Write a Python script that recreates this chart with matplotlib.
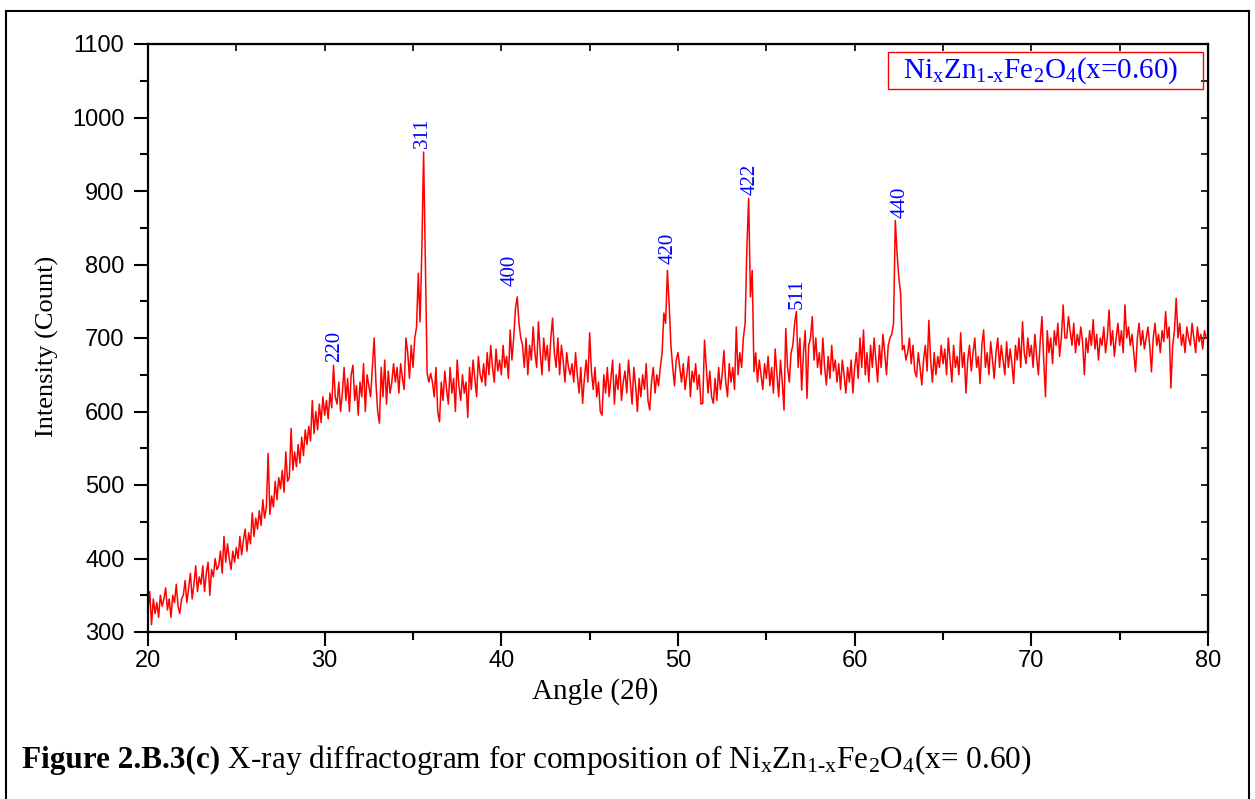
import numpy as np
import matplotlib
matplotlib.use("Agg")
import matplotlib.pyplot as plt
from matplotlib.ticker import MultipleLocator
from matplotlib.lines import Line2D

plt.rcParams['mathtext.fontset'] = 'custom'
plt.rcParams['mathtext.rm'] = 'Liberation Serif'
plt.rcParams['mathtext.it'] = 'Liberation Serif:italic'

# ---- data: intensity read every 0.1 degree from 20.0 to 80.0 ----
angle_start = 20.0
angle_step = 0.1
intensity_rows = [
    [330, 355, 310, 345, 325, 340, 320, 350, 335, 345],  # 20
    [360, 330, 345, 320, 350, 340, 365, 335, 325, 345],  # 21
    [350, 370, 340, 360, 380, 345, 365, 390, 355, 375],  # 22
    [365, 390, 355, 380, 395, 350, 385, 375, 400, 385],  # 23
    [390, 410, 380, 430, 395, 420, 400, 385, 410, 395],  # 24
    [415, 400, 430, 405, 425, 440, 410, 435, 420, 462],  # 25
    [430, 455, 440, 465, 445, 480, 455, 470, 543, 460],  # 26
    [485, 470, 505, 480, 510, 495, 520, 490, 545, 505],  # 27
    [510, 577, 520, 545, 525, 555, 530, 565, 540, 575],  # 28
    [555, 580, 560, 615, 570, 600, 575, 610, 585, 620],  # 29
    [595, 615, 590, 625, 605, 663, 620, 610, 640, 600],  # 30
    [625, 660, 615, 645, 600, 650, 663, 615, 635, 595],  # 31
    [640, 620, 665, 600, 650, 635, 620, 660, 700, 640],  # 32
    [600, 584, 660, 620, 670, 610, 655, 625, 640, 665],  # 33
    [640, 660, 625, 665, 645, 630, 700, 680, 645, 690],  # 34
    [660, 700, 715, 788, 722, 820, 953, 800, 652, 640],  # 35
    [652, 640, 620, 660, 600, 586, 640, 615, 655, 630],  # 36
    [610, 660, 625, 645, 600, 670, 635, 615, 650, 625],  # 37
    [640, 592, 660, 630, 670, 645, 620, 675, 650, 640],  # 38
    [665, 635, 680, 650, 690, 660, 640, 685, 655, 670],  # 39
    [650, 690, 660, 675, 645, 711, 670, 700, 740, 756],  # 40
    [720, 700, 690, 660, 700, 650, 690, 670, 715, 680],  # 41
    [660, 722, 680, 650, 700, 670, 690, 655, 700, 727],  # 42
    [680, 660, 700, 650, 690, 670, 640, 680, 660, 650],  # 43
    [665, 640, 680, 650, 625, 660, 611, 645, 670, 640],  # 44
    [707, 655, 630, 660, 620, 640, 600, 595, 650, 625],  # 45
    [660, 620, 645, 670, 610, 650, 630, 665, 615, 640],  # 46
    [655, 625, 670, 640, 610, 660, 635, 600, 645, 620],  # 47
    [650, 630, 665, 615, 602, 640, 660, 625, 650, 635],  # 48
    [660, 680, 734, 720, 792, 745, 690, 660, 635, 670],  # 49
    [680, 660, 640, 665, 630, 650, 675, 620, 655, 640],  # 50
    [665, 630, 650, 610, 611, 697, 660, 625, 655, 620],  # 51
    [611, 645, 615, 660, 630, 650, 683, 640, 620, 665],  # 52
    [640, 660, 630, 715, 650, 680, 660, 700, 720, 824],  # 53
    [890, 756, 792, 654, 680, 640, 670, 650, 630, 665],  # 54
    [645, 675, 635, 660, 625, 685, 650, 620, 670, 640],  # 55
    [602, 713, 660, 640, 680, 690, 720, 736, 660, 700],  # 56
    [629, 680, 710, 618, 690, 700, 729, 670, 700, 660],  # 57
    [680, 650, 700, 660, 636, 675, 645, 690, 655, 670],  # 58
    [640, 665, 630, 670, 650, 625, 660, 640, 670, 625],  # 59
    [660, 680, 645, 700, 660, 711, 650, 680, 640, 690],  # 60
    [660, 700, 670, 640, 690, 660, 705, 680, 650, 690],  # 61
    [700, 705, 720, 860, 815, 782, 761, 684, 690, 670],  # 62
    [680, 700, 665, 690, 655, 647, 680, 660, 636, 670],  # 63
    [690, 655, 724, 670, 640, 680, 650, 675, 660, 690],  # 64
    [665, 685, 650, 700, 670, 640, 690, 660, 675, 650],  # 65
    [707, 660, 680, 625, 670, 690, 655, 680, 700, 660],  # 66
    [675, 638, 690, 711, 660, 680, 650, 695, 670, 645],  # 67
    [680, 700, 660, 690, 670, 650, 695, 660, 685, 665],  # 68
    [638, 690, 670, 700, 660, 722, 680, 665, 700, 675],  # 69
    [690, 660, 705, 675, 650, 695, 729, 670, 620, 710],  # 70
    [680, 700, 665, 710, 690, 720, 675, 700, 745, 700],  # 71
    [700, 729, 710, 690, 720, 680, 705, 690, 715, 695],  # 72
    [650, 700, 680, 710, 690, 725, 685, 705, 670, 700],  # 73
    [690, 715, 680, 700, 738, 690, 710, 675, 700, 720],  # 74
    [690, 710, 680, 745, 700, 715, 690, 705, 680, 654],  # 75
    [700, 720, 690, 710, 685, 700, 715, 690, 654, 700],  # 76
    [720, 690, 705, 680, 710, 695, 736, 700, 715, 632],  # 77
    [690, 710, 754, 700, 720, 690, 705, 680, 715, 700],  # 78
    [690, 720, 700, 680, 715, 695, 705, 685, 710, 700],  # 79
    [700],                                                # 80
]

peak_labels = ['220', '311', '400', '420', '422', '511', '440']
peak_label_x = [30.57, 35.55, 40.49, 49.45, 54.11, 56.72, 62.60]
peak_label_y = [667, 958, 771, 801, 895, 739, 863]

x_ticks = [20, 30, 40, 50, 60, 70, 80]
y_ticks = [300, 400, 500, 600, 700, 800, 900, 1000, 1100]

intensity = np.concatenate([np.array(r, dtype=float) for r in intensity_rows])
angle = angle_start + angle_step * np.arange(len(intensity))

W, H = 1255, 799
fig = plt.figure(figsize=(W / 100, H / 100), dpi=100)

# page border (top, left, right)
for xs, ys in [([6 / W, 1249 / W], [1 - 11 / H, 1 - 11 / H]),
               ([6 / W, 6 / W], [1 - 11 / H, 0]),
               ([1249 / W, 1249 / W], [1 - 11 / H, 0])]:
    fig.add_artist(Line2D(xs, ys, color='black', lw=1.5, transform=fig.transFigure))

ax = fig.add_axes([148 / W, 1 - 632 / H, (1208 - 148) / W, (632 - 44) / H])
ax.plot(angle, intensity, color='#FF0000', lw=1.1)
ax.set_xlim(20, 80)
ax.set_ylim(300, 1100)

ax.set_xticks(x_ticks)
ax.set_yticks(y_ticks)
ax.xaxis.set_minor_locator(MultipleLocator(5))
ax.yaxis.set_minor_locator(MultipleLocator(50))
for s in ax.spines.values():
    s.set_linewidth(1.6)
ax.tick_params(which='major', direction='out', length=10, width=1.5,
               labelsize=17, pad=3)
ax.tick_params(axis='y', which='major', pad=7)
ax.tick_params(which='minor', direction='out', length=5.5, width=1.5)
for lab in ax.get_xticklabels() + ax.get_yticklabels():
    lab.set_fontfamily('Liberation Sans')

secx = ax.secondary_xaxis('top')
secx.set_xticks(x_ticks)
secx.xaxis.set_minor_locator(MultipleLocator(5))
secx.tick_params(which='both', direction='in', length=5, width=1.2, labeltop=False)
secy = ax.secondary_yaxis('right')
secy.set_yticks(y_ticks)
secy.yaxis.set_minor_locator(MultipleLocator(50))
secy.tick_params(which='both', direction='in', length=5, width=1.2, labelright=False)

# axis titles
fig.text(595 / W, 1 - 699 / H, 'Angle (2θ)', fontfamily='Liberation Serif', fontsize=21,
         ha='center', va='baseline')
fig.text(47 / W, 1 - 346 / H, 'Intensity (Count)', fontfamily='Liberation Serif', fontsize=19,
         ha='center', va='center', rotation=90)

for lab, lx, ly in zip(peak_labels, peak_label_x, peak_label_y):
    ax.text(lx, ly, lab, rotation=90, ha='center', va='bottom', color='#0000FF',
            fontfamily='Liberation Serif', fontsize=15)

fig.text(903 / W, 1 - 78 / H,
         r'Ni$_\mathrm{x}$Zn$_\mathrm{1\text{-}x}$Fe$_\mathrm{2}$O$_\mathrm{4}$(x=0.60)',
         ha='left', va='baseline', color='#0000FF',
         fontfamily='Liberation Serif', fontsize=21)
fig.add_artist(plt.Rectangle((888 / W, 1 - 89 / H), (1203 - 888) / W, 37 / H,
                             transform=fig.transFigure, fill=False,
                             edgecolor='#FF0000', lw=1.0))

cap_y = 1 - 768 / H
t1 = fig.text(22 / W, cap_y, 'Figure 2.B.3(c)', fontfamily='Liberation Serif',
              fontweight='bold', fontsize=22.5, va='baseline', ha='left')
fig.canvas.draw()
bb = t1.get_window_extent(renderer=fig.canvas.get_renderer())
fig.text(bb.x1 / W, cap_y,
         r' X-ray diffractogram for composition of Ni$_\mathrm{x}$Zn$_\mathrm{1\text{-}x}$Fe$_\mathrm{2}$O$_\mathrm{4}$(x= 0.60)',
         va='baseline', ha='left', fontfamily='Liberation Serif', fontsize=22.5)

fig.savefig('out.png', dpi=100)
